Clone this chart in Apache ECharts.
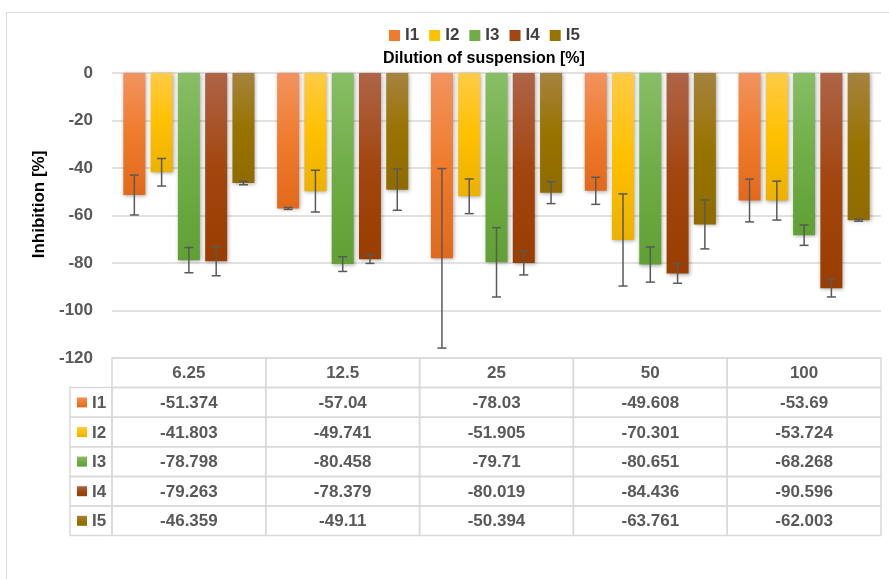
<!DOCTYPE html>
<html><head><meta charset="utf-8">
<script src="https://cdn.jsdelivr.net/npm/echarts/dist/echarts.min.js"></script>
<style>html,body{margin:0;padding:0;background:#fff}#c{width:889px;height:579px}</style>
</head><body><div id="c"></div>
<script>
// ---- data ----
const categories = ['6.25', '12.5', '25', '50', '100'];
const seriesNames = ['I1', 'I2', 'I3', 'I4', 'I5'];
const I1 = [-51.374, -57.04, -78.03, -49.608, -53.69];
const I2 = [-41.803, -49.741, -51.905, -70.301, -53.724];
const I3 = [-78.798, -80.458, -79.71, -80.651, -68.268];
const I4 = [-79.263, -78.379, -80.019, -84.436, -90.596];
const I5 = [-46.359, -49.11, -50.394, -63.761, -62.003];
// error bar half-lengths
const I1err = [8.4, 0.4, 37.8, 5.7, 9.0];
const I2err = [5.8, 8.8, 7.3, 19.4, 8.2];
const I3err = [5.3, 3.1, 14.6, 7.4, 4.3];
const I4err = [6.1, 1.8, 5.0, 4.1, 3.7];
const I5err = [0.7, 8.7, 4.6, 10.3, 0.4];
const yMin = -120, yMax = 0, yStep = 20;

const values = [I1, I2, I3, I4, I5];
const errors = [I1err, I2err, I3err, I4err, I5err];

// ---- styles ----
const FONT = '"Liberation Sans", Arial, sans-serif';
const palette = [
  ['#F29360', '#EF7B2C', '#E2691B'],
  ['#FFCB45', '#FFC000', '#EDB100'],
  ['#88BE66', '#70AD47', '#60A034'],
  ['#AE6447', '#A3460F', '#9A3D00'],
  ['#A5833F', '#997300', '#8F6B00']
];
const BAR_W = 22, BAR_GAP = 0.24;

function grad(p) {
  return new echarts.graphic.LinearGradient(0, 0, 0, 1, [
    {offset: 0, color: p[0]}, {offset: 0.5, color: p[1]}, {offset: 1, color: p[2]}
  ]);
}

const barSeries = seriesNames.map((n, i) => ({
  name: n, type: 'bar', xAxisIndex: 0, yAxisIndex: 0,
  data: values[i], barWidth: BAR_W, barGap: (BAR_GAP * 100) + '%',
  itemStyle: {color: grad(palette[i]), shadowBlur: 4, shadowColor: 'rgba(0,0,0,0.35)', shadowOffsetX: 1, shadowOffsetY: 1},
  z: 2
}));

const errSeries = seriesNames.map((n, idx) => ({
  type: 'custom', xAxisIndex: 0, yAxisIndex: 0, z: 5, silent: true,
  data: values[idx].map((v, i) => [i, v, errors[idx][i]]),
  renderItem(params, api) {
    const c = api.value(0), v = api.value(1), e = api.value(2);
    const off = (idx - 2) * BAR_W * (1 + BAR_GAP);
    const t = api.coord([c, v + e]), b = api.coord([c, v - e]);
    const x = t[0] + off, cap = 4.5;
    const st = {stroke: '#595959', lineWidth: 1.5};
    return {type: 'group', children: [
      {type: 'line', shape: {x1: x, y1: t[1], x2: x, y2: b[1]}, style: st},
      {type: 'line', shape: {x1: x - cap, y1: t[1], x2: x + cap, y2: t[1]}, style: st},
      {type: 'line', shape: {x1: x - cap, y1: b[1], x2: x + cap, y2: b[1]}, style: st}
    ]};
  }
}));

const tableData = [];
for (let r = 0; r <= seriesNames.length; r++)
  for (let c = 0; c < categories.length; c++) tableData.push([c, r]);

const tableSeries = {
  type: 'custom', xAxisIndex: 1, yAxisIndex: 1, silent: true, z: 3,
  data: tableData,
  renderItem(params, api) {
    const c = api.value(0), r = api.value(1);
    const p = api.coord([c, r]);
    const s = api.size([1, 1]);
    const txt = r === 0 ? categories[c] : String(values[r - 1][c]);
    return {type: 'group', children: [
      {type: 'rect', shape: {x: p[0] - s[0] / 2, y: p[1] - s[1] / 2, width: s[0], height: s[1]},
       style: {fill: 'none', stroke: '#d9d9d9', lineWidth: 1.5}},
      {type: 'text', style: {x: p[0], y: p[1] + 1, text: txt, align: 'center', verticalAlign: 'middle',
       textAlign: 'center', textVerticalAlign: 'middle', font: 'bold 17px ' + FONT, fill: '#595959'}}
    ]};
  }
};

const legendColData = seriesNames.map((n, i) => [0, i + 1]);
const legendColSeries = {
  type: 'custom', xAxisIndex: 1, yAxisIndex: 1, silent: true, z: 3,
  data: legendColData,
  renderItem(params, api) {
    const r = api.value(1);
    const p = api.coord([0, r]);
    const s = api.size([1, 1]);
    const w = 42;
    const x0 = p[0] - s[0] / 2 - w;
    return {type: 'group', children: [
      {type: 'rect', shape: {x: x0, y: p[1] - s[1] / 2, width: w, height: s[1]},
       style: {fill: 'none', stroke: '#d9d9d9', lineWidth: 1.5}},
      {type: 'rect', shape: {x: x0 + 7, y: p[1] - 5, width: 10, height: 10},
       style: {fill: grad(palette[r - 1])}},
      {type: 'text', style: {x: x0 + 22, y: p[1] + 1, text: seriesNames[r - 1], align: 'left', verticalAlign: 'middle',
       textAlign: 'left', textVerticalAlign: 'middle', font: 'bold 17px ' + FONT, fill: '#595959'}}
    ]};
  }
};

const chart = echarts.init(document.getElementById('c'), null, {renderer: 'canvas'});
chart.setOption({
  animation: false,
  backgroundColor: '#fff',
  textStyle: {fontFamily: FONT},
  title: {
    text: 'Dilution of suspension [%]', left: 378, top: 46,
    textStyle: {fontFamily: FONT, fontWeight: 'bold', fontSize: 16, color: '#000'}
  },
  legend: {
    data: seriesNames.map((n, i) => ({name: n, itemStyle: {color: palette[i][1]}})),
    left: 384, top: 22, itemWidth: 11, itemHeight: 11, itemGap: 10,
    icon: 'rect',
    textStyle: {fontFamily: FONT, fontWeight: 'bold', fontSize: 17, color: '#404040'}
  },
  graphic: [{
    type: 'rect', silent: true, z: -10,
    shape: {x: 6.5, y: 12.5, width: 1000, height: 1000},
    style: {fill: 'none', stroke: '#d9d9d9', lineWidth: 1}
  }],
  grid: [
    {left: 112, right: 8, top: 73, height: 285},
    {left: 112, right: 8, top: 358, height: 177.6}
  ],
  xAxis: [
    {type: 'category', gridIndex: 0, data: categories, axisLine: {show: false}, axisTick: {show: false}, axisLabel: {show: false}},
    {type: 'category', gridIndex: 1, data: categories, show: false}
  ],
  yAxis: [
    {type: 'value', gridIndex: 0, min: yMin, max: yMax, interval: yStep,
     name: 'Inhibition [%]', nameLocation: 'middle', nameGap: 53, nameRotate: 90,
     nameTextStyle: {fontFamily: FONT, fontWeight: 'bold', fontSize: 17, color: '#000', padding: [0, 0, 0, 22]},
     axisLine: {show: false}, axisTick: {show: false},
     axisLabel: {margin: 19, fontFamily: FONT, fontWeight: 'bold', fontSize: 17, color: '#595959'},
     splitLine: {lineStyle: {color: '#d9d9d9', width: 1.5}}},
    {type: 'category', gridIndex: 1, data: [''].concat(seriesNames), inverse: true, show: false}
  ],
  series: barSeries.concat(errSeries, [tableSeries, legendColSeries])
});
</script></body></html>
